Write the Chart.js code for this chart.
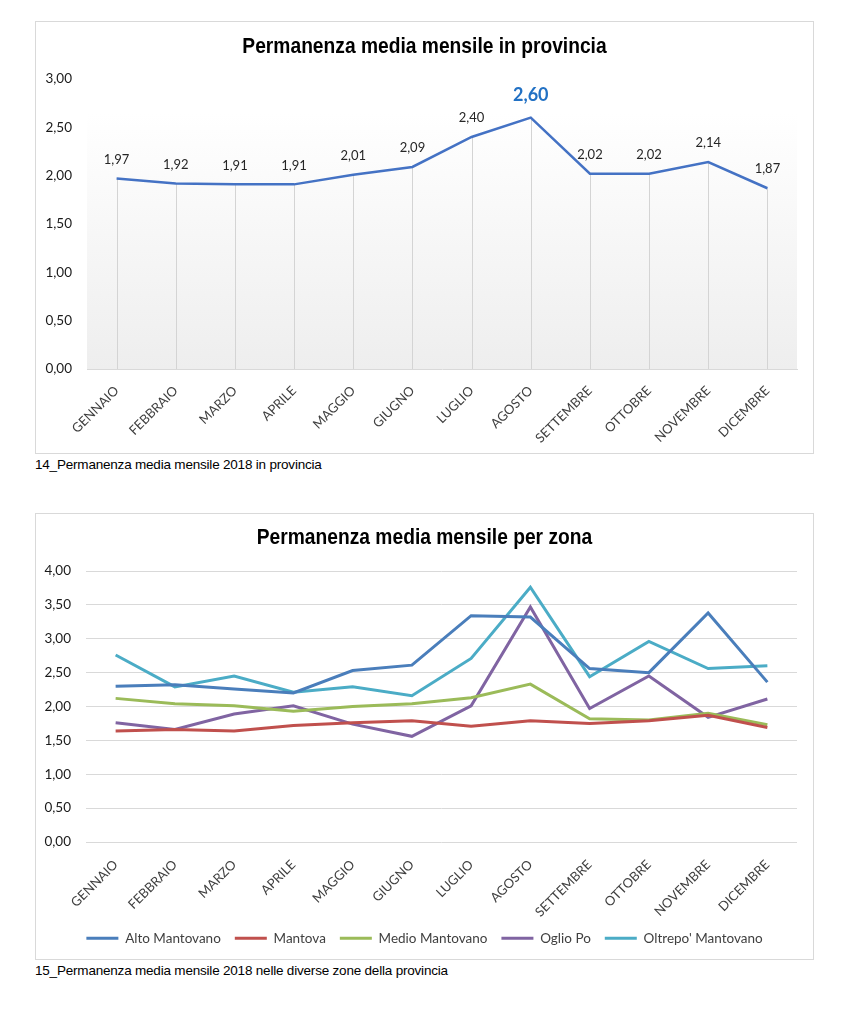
<!DOCTYPE html>
<html>
<head>
<meta charset="utf-8">
<script src="https://cdn.jsdelivr.net/npm/chart.js@4.4.1/dist/chart.umd.min.js"></script>
<style>
  html, body { margin: 0; padding: 0; background: #ffffff; }
  body { width: 851px; height: 1024px; position: relative; overflow: hidden; }
  .box { position: absolute; border: 1px solid #d9d9d9; background: #fff; }
  .box canvas { display: block; }
  .ctitle { position: absolute; left: 0; width: 100%; text-align: center; font-family: "Liberation Sans", Arial, sans-serif; font-weight: bold; font-size: 21.5px; line-height: 21.5px; color: #000; transform: scaleX(0.894); transform-origin: 50% 50%; white-space: nowrap; pointer-events: none; }
  .caption { position: absolute; left: 35px; font-family: "Liberation Sans", Arial, sans-serif; font-size: 13.5px; line-height: 16px; color: #000; letter-spacing: -0.2px; }
</style>
</head>
<body>
<div class="box" id="box1" style="left:35px; top:21px; width:777px; height:431px;"><canvas id="c1"></canvas><div class="ctitle" style="top:14px;">Permanenza media mensile in provincia</div></div>
<div class="caption" style="top:457px;">14_Permanenza media mensile 2018 in provincia</div>
<div class="box" id="box2" style="left:35px; top:513px; width:777px; height:445px;"><canvas id="c2"></canvas><div class="ctitle" style="top:13px;">Permanenza media mensile per zona</div></div>
<div class="caption" style="top:963px;">15_Permanenza media mensile 2018 nelle diverse zone della provincia</div>
<script>
// ---------- DATA ----------
const months = ["GENNAIO","FEBBRAIO","MARZO","APRILE","MAGGIO","GIUGNO","LUGLIO","AGOSTO","SETTEMBRE","OTTOBRE","NOVEMBRE","DICEMBRE"];
const provincia = [1.97,1.92,1.91,1.91,2.01,2.09,2.40,2.60,2.02,2.02,2.14,1.87];

const zoneNames = ["Alto Mantovano","Mantova","Medio Mantovano","Oglio Po","Oltrepo' Mantovano"];
const altoMantovano = [2.30,2.32,2.26,2.20,2.53,2.61,3.34,3.32,2.56,2.50,3.38,2.36];
const mantova       = [1.64,1.66,1.64,1.72,1.76,1.79,1.71,1.79,1.75,1.79,1.87,1.69];
const medioMantovano= [2.12,2.04,2.01,1.93,2.00,2.04,2.13,2.33,1.82,1.80,1.90,1.73];
const oglioPo       = [1.76,1.66,1.89,2.01,1.74,1.56,2.01,3.47,1.97,2.45,1.84,2.11];
const oltrepo       = [2.76,2.29,2.45,2.21,2.29,2.16,2.71,3.76,2.44,2.96,2.56,2.60];

const ticksTop = [0,0.5,1,1.5,2,2.5,3];
const ticksBottom = [0,0.5,1,1.5,2,2.5,3,3.5,4];

const zoneColors = ["#4a7ebb","#c0504d","#9bbb59","#8064a2","#4bacc6"];
// --------------------------

const fmt = v => Number(v).toFixed(2).replace('.', ',');
const tickFont = { family: "Lato, 'Open Sans', sans-serif", size: 13.5 };
const xFont = { family: "Lato, 'Open Sans', sans-serif", size: 13 };

function sizeCanvas(id, w, h) {
  const c = document.getElementById(id);
  c.style.width = w + 'px'; c.style.height = h + 'px';
  c.width = w; c.height = h;
  return c;
}

// plugins for top chart
const bgPlugin = {
  id: 'bgGradient',
  beforeDatasetsDraw(chart) {
    const {ctx, chartArea: a} = chart;
    const g = ctx.createLinearGradient(0, a.top, 0, a.bottom);
    g.addColorStop(0, 'rgba(255,255,255,1)');
    g.addColorStop(0.12, 'rgba(255,255,255,1)');
    g.addColorStop(1, '#eeeeee');
    ctx.save();
    ctx.fillStyle = g;
    ctx.fillRect(a.left, a.top, a.right - a.left, a.bottom - a.top);
    // drop lines
    const meta = chart.getDatasetMeta(0);
    ctx.strokeStyle = '#d4d4d4';
    ctx.lineWidth = 1;
    meta.data.forEach(pt => {
      ctx.beginPath();
      const x = Math.round(pt.x) + 0.5;
      ctx.moveTo(x, pt.y);
      ctx.lineTo(x, a.bottom);
      ctx.stroke();
    });
    ctx.restore();
  }
};
const labelPlugin = {
  id: 'valueLabels',
  afterDatasetsDraw(chart) {
    const {ctx} = chart;
    const ds = chart.data.datasets[0].data;
    const maxIdx = ds.indexOf(Math.max(...ds));
    const meta = chart.getDatasetMeta(0);
    ctx.save();
    ctx.textAlign = 'center';
    ctx.textBaseline = 'middle';
    meta.data.forEach((pt, i) => {
      if (i === maxIdx) {
        ctx.font = "bold 18px Lato, 'Open Sans', sans-serif";
        ctx.fillStyle = '#2271c4';
        ctx.fillText(fmt(ds[i]), pt.x, pt.y - 22);
      } else {
        ctx.font = "13px Lato, 'Open Sans', sans-serif";
        ctx.fillStyle = '#262626';
        ctx.fillText(fmt(ds[i]), pt.x, pt.y - 19);
      }
    });
    ctx.restore();
  }
};

const c1 = sizeCanvas('c1', 777, 431);
new Chart(c1, {
  type: 'line',
  data: {
    labels: months,
    datasets: [{
      label: 'Permanenza media',
      data: provincia,
      borderColor: '#4472c4',
      borderWidth: 2.5,
      pointRadius: 0,
      tension: 0,
      fill: false
    }]
  },
  options: {
    responsive: false,
    animation: false,
    devicePixelRatio: 1,
    layout: { padding: { top: 57, right: 16, bottom: 0, left: 0 } },
    plugins: {
      legend: { display: false },
      tooltip: { enabled: false },
      title: { display: false }
    },
    scales: {
      x: {
        offset: true,
        grid: { display: false, drawTicks: false },
        border: { display: true, color: '#d9d9d9', width: 1 },
        ticks: { minRotation: 45, maxRotation: 45, autoSkip: false, padding: 14, color: '#404040', font: xFont },
        afterFit(s) { s.height = 84; }
      },
      y: {
        min: 0, max: 3,
        afterBuildTicks(s) { s.ticks = ticksTop.map(v => ({ value: v })); },
        grid: { display: false, drawTicks: false },
        border: { display: false },
        ticks: { padding: 15, color: '#1a1a1a', font: tickFont, callback: v => fmt(v) },
        afterFit(s) { s.width = 51; }
      }
    }
  },
  plugins: [bgPlugin, labelPlugin]
});

const c2 = sizeCanvas('c2', 777, 445);
const zoneSeries = [altoMantovano, mantova, medioMantovano, oglioPo, oltrepo];
new Chart(c2, {
  type: 'line',
  data: {
    labels: months,
    datasets: zoneSeries.map((d, i) => ({
      label: zoneNames[i],
      data: d,
      borderColor: zoneColors[i],
      backgroundColor: zoneColors[i],
      borderWidth: 3,
      pointRadius: 0,
      tension: 0,
      fill: false
    }))
  },
  options: {
    responsive: false,
    animation: false,
    devicePixelRatio: 1,
    layout: { padding: { top: 57, right: 0, bottom: 4, left: 0 } },
    plugins: {
      tooltip: { enabled: false },
      title: { display: false },
      legend: {
        display: true,
        position: 'bottom',
        labels: {
          usePointStyle: true,
          pointStyle: 'line',
          pointStyleWidth: 32,
          padding: 14,
          color: '#404040',
          font: { family: "Lato, 'Open Sans', sans-serif", size: 13.5 }
        }
      }
    },
    scales: {
      x: {
        offset: true,
        grid: { display: false, drawTicks: false },
        border: { display: false },
        ticks: { minRotation: 45, maxRotation: 45, autoSkip: false, padding: 15, color: '#404040', font: xFont },
        afterFit(s) { s.height = 75.5; }
      },
      y: {
        min: 0, max: 4,
        afterBuildTicks(s) { s.ticks = ticksBottom.map(v => ({ value: v })); },
        grid: { color: '#d9d9d9', lineWidth: 1, drawTicks: false },
        border: { display: false },
        ticks: { padding: 15, color: '#1a1a1a', font: tickFont, callback: v => fmt(v) },
        afterFit(s) { s.width = 50; }
      },
      yRightSpace: {
        position: 'right',
        display: true,
        grid: { display: false, drawTicks: false },
        border: { display: false },
        ticks: { display: false },
        afterFit(s) { s.width = 16; }
      }
    }
  }
});
</script>
</body>
</html>
